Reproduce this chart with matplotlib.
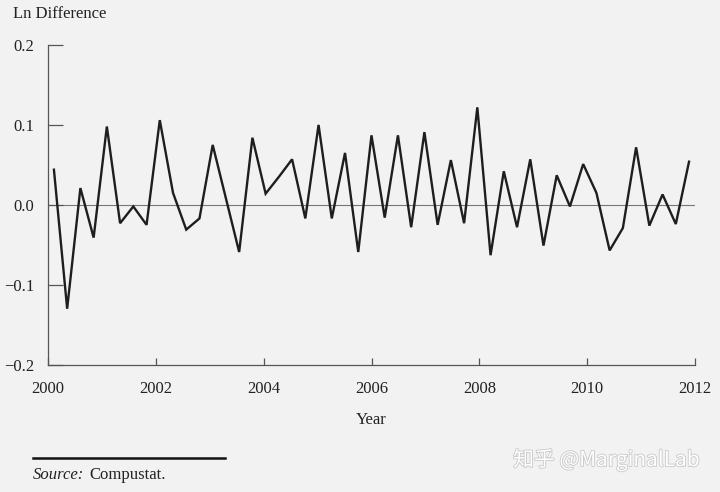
import numpy as np
import matplotlib
matplotlib.use("Agg")
import matplotlib.pyplot as plt
import matplotlib.patheffects as pe

# Data: quarterly ln difference, 2000 to 2012
start_year = 2000.11
step = 0.2454
values = [0.044, -0.130, 0.021, -0.041, 0.098, -0.023, -0.002, -0.025,
          0.106, 0.015, -0.031, -0.017, 0.075, 0.008, -0.059, 0.084,
          0.014, 0.035, 0.057, -0.017, 0.100, -0.017, 0.065, -0.059,
          0.087, -0.016, 0.087, -0.028, 0.091, -0.025, 0.056, -0.023,
          0.122, -0.063, 0.042, -0.028, 0.057, -0.051, 0.037, -0.002,
          0.051, 0.015, -0.057, -0.029, 0.072, -0.026, 0.013, -0.024,
          0.054]
years = start_year + step * np.arange(len(values))
x_ticks = [2000, 2002, 2004, 2006, 2008, 2010, 2012]
y_ticks = [-0.2, -0.1, 0.0, 0.1, 0.2]
y_labels = ["\u22120.2", "\u22120.1", "0.0", "0.1", "0.2"]

bg = "#f2f2f2"
serif = ["Liberation Serif", "DejaVu Serif"]
plt.rcParams["font.family"] = serif

fig = plt.figure(figsize=(7.2, 4.92), dpi=100, facecolor=bg)
ax = fig.add_axes([48/720, 1-364.7/492, (695-48)/720, (364.7-45)/492])
ax.set_facecolor(bg)

ax.axhline(0, color="#777777", lw=0.8, zorder=1)
ax.plot(years, values, color="#1e1e1e", lw=1.7, zorder=2, solid_joinstyle="miter")

ax.set_xlim(2000, 2012)
ax.set_ylim(-0.2, 0.2)
for s in ["top", "right"]:
    ax.spines[s].set_visible(False)
for s in ["left", "bottom"]:
    ax.spines[s].set_color("#555555")
    ax.spines[s].set_linewidth(0.9)

ax.set_xticks(x_ticks)
ax.set_xticklabels([str(t) for t in x_ticks])
ax.set_yticks(y_ticks)
ax.set_yticklabels(y_labels)
ax.tick_params(axis="x", direction="in", length=5, width=0.9, color="#555555",
               labelsize=12, labelcolor="#222222", pad=12)
ax.tick_params(axis="y", direction="in", length=11, width=0.9, color="#555555",
               labelsize=12, labelcolor="#222222", pad=10)

fig.text(371/720, 1-420/492, "Year", ha="center", va="center", fontsize=12, color="#222222")
fig.text(13/720, 1-14/492, "Ln Difference", ha="left", va="center", fontsize=12, color="#222222")

fig.add_artist(plt.Line2D([33/720, 225/720], [1-458/492, 1-458/492],
                          color="#111111", lw=1.8, transform=fig.transFigure))
fig.text(33/720, 1-475/492, "Source:", ha="left", va="center", fontsize=12,
         style="italic", color="#222222")
fig.text(89/720, 1-475/492, "Compustat.", ha="left", va="center", fontsize=12,
         color="#222222")

fig.text(700/720, 1-460/492, "知乎 @MarginalLab", ha="right", va="center",
         fontsize=15, color="white", family=["Noto Sans CJK SC", "DejaVu Sans"],
         path_effects=[pe.withStroke(linewidth=1.2, foreground="#c8c8c8")])

fig.savefig("out.png", dpi=100, facecolor=bg)
